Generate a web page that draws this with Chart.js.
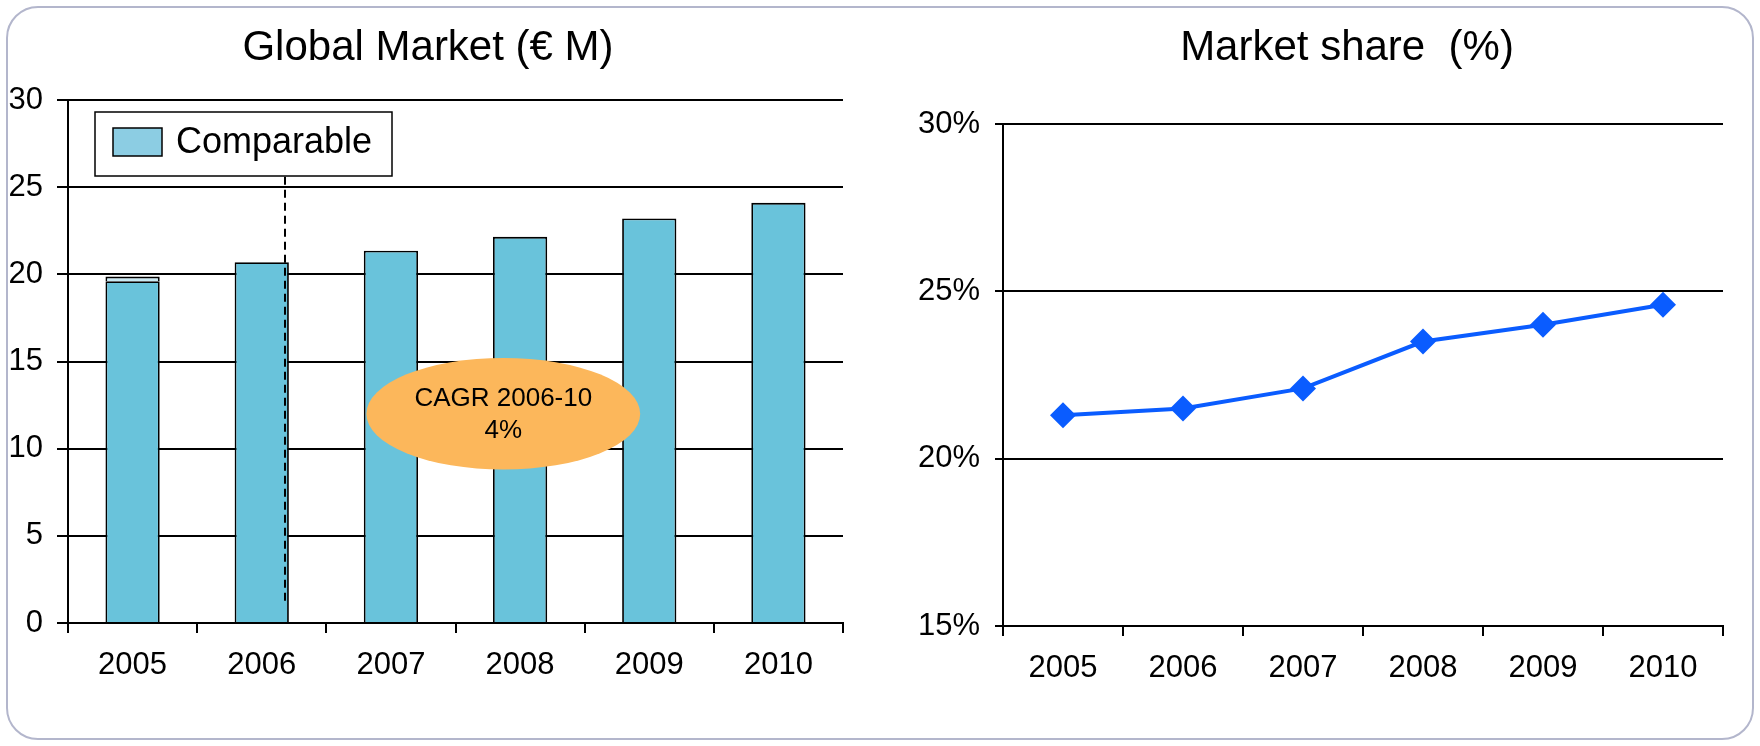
<!DOCTYPE html>
<html>
<head>
<meta charset="utf-8">
<script src="https://cdn.jsdelivr.net/npm/chart.js@4.4.1/dist/chart.umd.min.js"></script>
<style>
  body { margin: 0; background: #fff; width: 1760px; height: 746px; position: relative; overflow: hidden; }
  #frame { position: absolute; left: 6px; top: 6px; width: 1744px; height: 730px; border: 2px solid #b3b6cc; border-radius: 32px; }
  #marketChart { position: absolute; left: 0; top: 0; }
  #shareChart { position: absolute; left: 900px; top: 0; }
</style>
</head>
<body>
<div id="frame"></div>
<canvas id="marketChart" width="862" height="746"></canvas>
<canvas id="shareChart" width="860" height="746"></canvas>
<script>
var years = ["2005", "2006", "2007", "2008", "2009", "2010"];
var comparable = [19.6, 20.7, 21.35, 22.15, 23.2, 24.1];
var extra2005 = [0.27, null, null, null, null, null];
var marketTicks = [0, 5, 10, 15, 20, 25, 30];
var share = [21.3, 21.5, 22.1, 23.5, 24.0, 24.6];
var shareTicks = [15, 20, 25, 30];
var cagrText = ["CAGR 2006-10", "4%"];

var FONT = "'Liberation Sans', Arial, sans-serif";
Chart.defaults.font.family = FONT;
Chart.defaults.color = "#000";

// heading over each panel, centred on a given canvas x
var panelTitle = {
    id: "panelTitle",
    afterDraw: function (chart, args, opts) {
        var ctx = chart.ctx;
        ctx.save();
        ctx.fillStyle = "#000";
        ctx.font = "42px " + FONT;
        ctx.textAlign = "center";
        ctx.textBaseline = "middle";
        ctx.fillText(opts.text, opts.x, 48);
        ctx.restore();
    }
};

// legend box, dashed split line and CAGR bubble on the bar chart
var marketExtras = {
    id: "marketExtras",
    afterDatasetsDraw: function (chart) {
        var ctx = chart.ctx;
        var x = chart.scales.x, y = chart.scales.y;
        var area = chart.chartArea;
        var cat = (area.right - area.left) / years.length;

        // dashed line just inside the 2006 bar
        var dx = x.getPixelForValue(1) + cat * 0.18;
        ctx.save();
        ctx.strokeStyle = "#000";
        ctx.lineWidth = 2;
        ctx.setLineDash([8, 5]);
        ctx.beginPath();
        ctx.moveTo(dx, y.getPixelForValue(25.6));
        ctx.lineTo(dx, y.getPixelForValue(1.1));
        ctx.stroke();
        ctx.restore();

        // ellipse
        var cx = x.getPixelForValue(2) + cat * 0.87;
        var cy = y.getPixelForValue(12);
        ctx.save();
        ctx.fillStyle = "#fcb75b";
        ctx.beginPath();
        ctx.ellipse(cx, cy, cat * 1.06, y.getPixelForValue(0) - y.getPixelForValue(3.2), 0, 0, Math.PI * 2);
        ctx.fill();
        ctx.fillStyle = "#000";
        ctx.font = "26px " + FONT;
        ctx.textAlign = "center";
        ctx.textBaseline = "middle";
        ctx.fillText(cagrText[0], cx, cy - 15);
        ctx.fillText(cagrText[1], cx, cy + 17);
        ctx.restore();

        // legend
        var lx = area.left + 27, ly = area.top + 12;
        ctx.save();
        ctx.fillStyle = "#fff";
        ctx.fillRect(lx, ly, 297, 64);
        ctx.strokeStyle = "#000";
        ctx.lineWidth = 1.5;
        ctx.strokeRect(lx, ly, 297, 64);
        ctx.fillStyle = "#8ccde3";
        ctx.fillRect(lx + 18, ly + 16, 49, 28);
        ctx.strokeRect(lx + 18, ly + 16, 49, 28);
        ctx.fillStyle = "#000";
        ctx.font = "36px " + FONT;
        ctx.textBaseline = "middle";
        ctx.fillText(chart.data.datasets[0].label, lx + 81, ly + 31);
        ctx.restore();
    }
};

new Chart(document.getElementById("marketChart"), {
    type: "bar",
    data: {
        labels: years,
        datasets: [{
            label: "Comparable",
            data: comparable,
            backgroundColor: "#69c3db",
            borderColor: "#000",
            borderWidth: 1.8,
            barPercentage: 0.42,
            categoryPercentage: 1
        }, {
            label: "",
            data: extra2005,
            backgroundColor: "#c9e9f3",
            borderColor: "#000",
            borderWidth: 1.8,
            barPercentage: 0.42,
            categoryPercentage: 1
        }]
    },
    options: {
        responsive: false,
        animation: false,
        layout: { padding: { left: 0, right: 19, top: 100, bottom: 0 } },
        plugins: {
            legend: { display: false },
            tooltip: { enabled: false },
            title: { display: false },
            panelTitle: { text: "Global Market (€ M)", x: 428 }
        },
        scales: {
            x: {
                stacked: true,
                offset: true,
                grid: { offset: true, drawOnChartArea: false, color: "#000", lineWidth: 2, tickLength: 10 },
                border: { color: "#000", width: 2 },
                ticks: { font: { size: 31 }, padding: 14, maxRotation: 0, autoSkip: false },
                afterFit: function (s) { s.height = 123; }
            },
            y: {
                stacked: true,
                min: 0,
                max: 30,
                afterBuildTicks: function (s) { s.ticks = marketTicks.map(function (v) { return { value: v }; }); },
                grid: { color: "#000", lineWidth: 2, tickLength: 11 },
                border: { color: "#000", width: 2 },
                ticks: { font: { size: 31 }, padding: 14 },
                afterFit: function (s) { s.width = 68; }
            }
        }
    },
    plugins: [marketExtras, panelTitle]
});

new Chart(document.getElementById("shareChart"), {
    type: "line",
    data: {
        labels: years,
        datasets: [{
            label: "Market share",
            data: share,
            borderColor: "#0a5cff",
            backgroundColor: "#0a5cff",
            borderWidth: 4,
            pointStyle: "rectRot",
            pointRadius: 13,
            pointBorderWidth: 0,
            tension: 0
        }]
    },
    options: {
        responsive: false,
        animation: false,
        layout: { padding: { left: 0, right: 37, top: 124, bottom: 0 } },
        plugins: {
            legend: { display: false },
            tooltip: { enabled: false },
            title: { display: false },
            panelTitle: { text: "Market share  (%)", x: 447 }
        },
        scales: {
            x: {
                offset: true,
                grid: { offset: true, drawOnChartArea: false, color: "#000", lineWidth: 2, tickLength: 10 },
                border: { color: "#000", width: 2 },
                ticks: { font: { size: 31 }, padding: 14, maxRotation: 0, autoSkip: false },
                afterFit: function (s) { s.height = 120; }
            },
            y: {
                min: 15,
                max: 30,
                afterBuildTicks: function (s) { s.ticks = shareTicks.map(function (v) { return { value: v }; }); },
                grid: { color: "#000", lineWidth: 2, tickLength: 8 },
                border: { color: "#000", width: 2 },
                ticks: { font: { size: 31 }, padding: 15, callback: function (v) { return v + "%"; } },
                afterFit: function (s) { s.width = 103; }
            }
        }
    },
    plugins: [panelTitle]
});
</script>
</body>
</html>
